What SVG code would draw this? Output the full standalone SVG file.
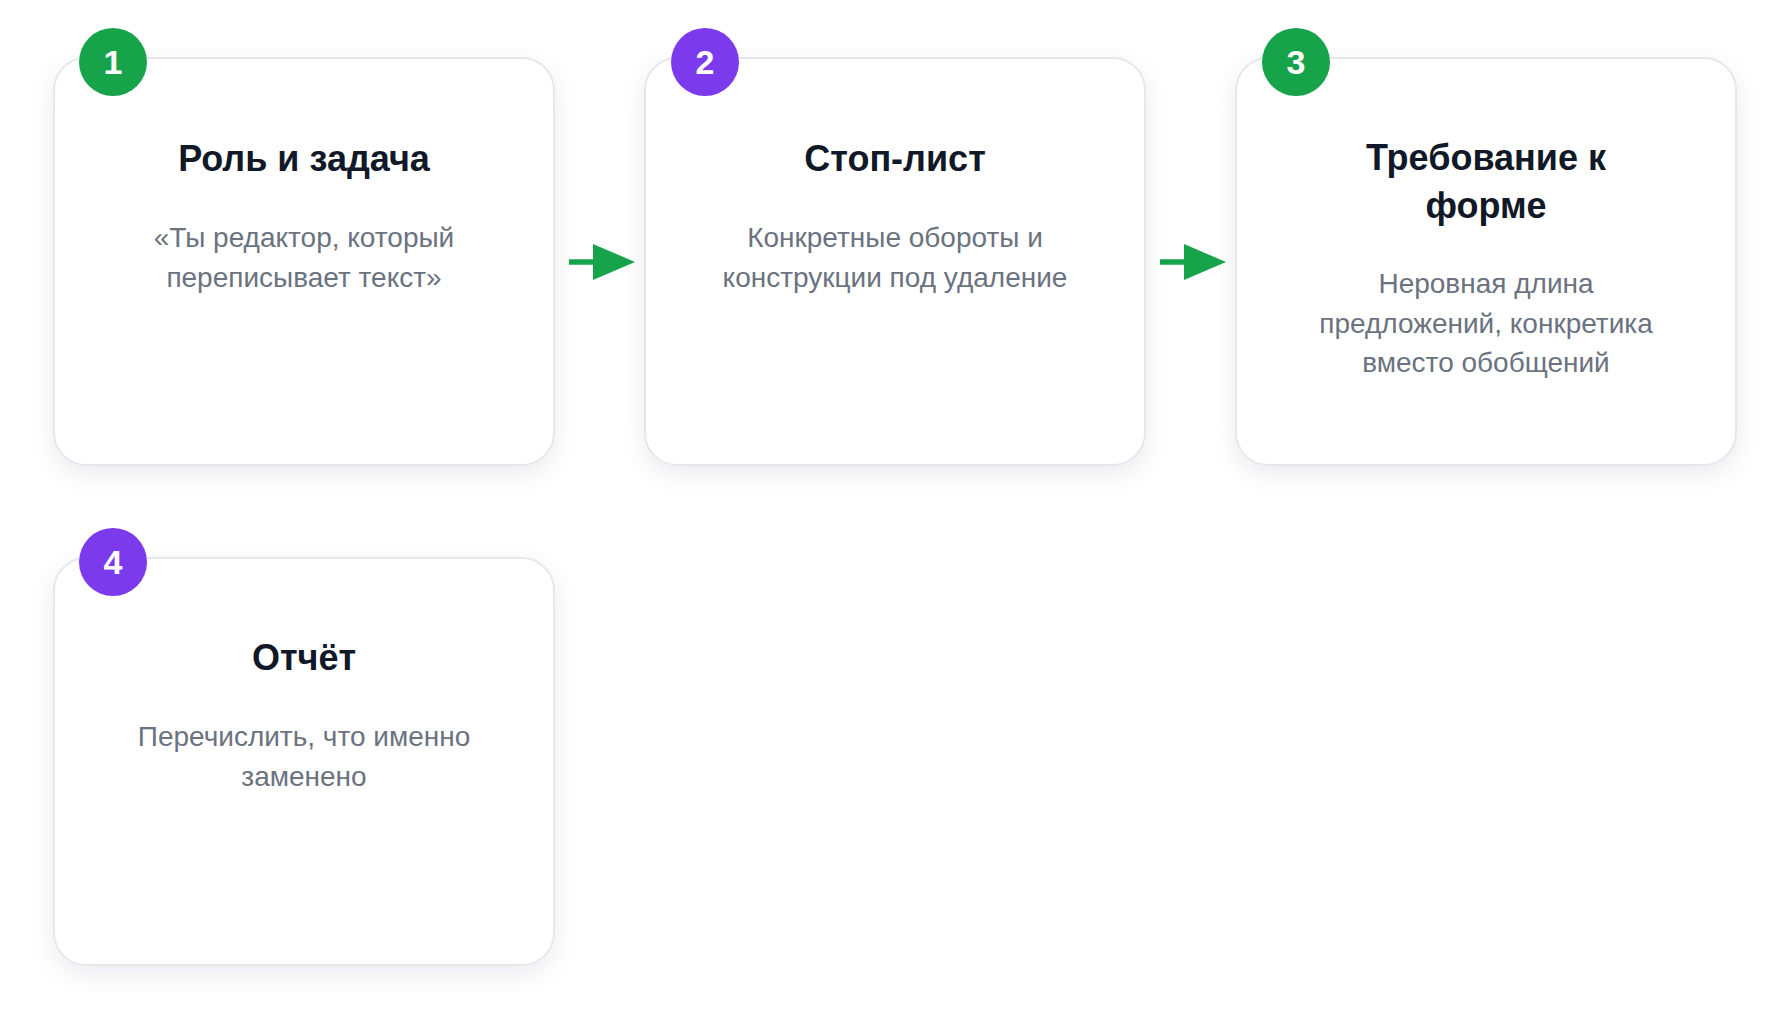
<svg xmlns="http://www.w3.org/2000/svg" width="1790" height="1025" viewBox="0 0 1790 1025">
  <defs>
    <filter id="shadow" x="-20%" y="-20%" width="140%" height="140%">
      <feDropShadow dx="0" dy="8" stdDeviation="12" flood-color="#1f2937" flood-opacity="0.08"/>
    </filter>
    <marker id="head" viewBox="0 0 10 10" refX="10" refY="5" markerWidth="8" markerHeight="7.2" markerUnits="userSpaceOnUse" orient="auto">
      <path d="M0,0 L10,5 L0,10 Z" fill="#16a34a"/>
    </marker>
  </defs>
  <style>
    .card { fill: #ffffff; stroke: #e5e7eb; stroke-width: 2; filter: url(#shadow); }
    .title { font-family: "Liberation Sans", Arial, sans-serif; font-weight: 700; font-size: 36px; fill: #111827; text-anchor: middle; }
    .body { font-family: "Liberation Sans", Arial, sans-serif; font-size: 28px; fill: #6b7280; text-anchor: middle; }
    .num { font-family: "Liberation Sans", Arial, sans-serif; font-weight: 700; font-size: 34px; fill: #ffffff; text-anchor: middle; }
    .green { fill: #16a34a; }
    .purple { fill: #7c3aed; }
    .conn { stroke: #16a34a; stroke-width: 5.5; fill: none; }
    .arrowhead { fill: #16a34a; }
  </style>
  <rect x="0" y="0" width="1790" height="1025" fill="#ffffff"/>

  <g id="connectors">
    <line class="conn" x1="569" y1="262" x2="596" y2="262"/>
    <polygon class="arrowhead" points="593,244 635,262 593,280"/>
    <line class="conn" x1="1160" y1="262" x2="1187" y2="262"/>
    <polygon class="arrowhead" points="1184,244 1226,262 1184,280"/>
  </g>

  <g id="node1">
    <rect class="card" x="54" y="58" width="500" height="407" rx="32" ry="32"/>
    <circle class="green" cx="113" cy="62" r="34"/>
    <text class="num" x="113" y="74">1</text>
    <text class="title" x="304" y="171">Роль и задача</text>
    <text class="body" x="304" y="247">«Ты редактор, который</text>
    <text class="body" x="304" y="286.5">переписывает текст»</text>
  </g>

  <g id="node2">
    <rect class="card" x="645" y="58" width="500" height="407" rx="32" ry="32"/>
    <circle class="purple" cx="705" cy="62" r="34"/>
    <text class="num" x="705" y="74">2</text>
    <text class="title" x="895" y="171">Стоп-лист</text>
    <text class="body" x="895" y="247">Конкретные обороты и</text>
    <text class="body" x="895" y="286.5">конструкции под удаление</text>
  </g>

  <g id="node3">
    <rect class="card" x="1236" y="58" width="500" height="407" rx="32" ry="32"/>
    <circle class="green" cx="1296" cy="62" r="34"/>
    <text class="num" x="1296" y="74">3</text>
    <text class="title" x="1486" y="170">Требование к</text>
    <text class="title" x="1486" y="218">форме</text>
    <text class="body" x="1486" y="293">Неровная длина</text>
    <text class="body" x="1486" y="332.5">предложений, конкретика</text>
    <text class="body" x="1486" y="372">вместо обобщений</text>
  </g>

  <g id="node4">
    <rect class="card" x="54" y="558" width="500" height="407" rx="32" ry="32"/>
    <circle class="purple" cx="113" cy="562" r="34"/>
    <text class="num" x="113" y="574">4</text>
    <text class="title" x="304" y="670">Отчёт</text>
    <text class="body" x="304" y="746">Перечислить, что именно</text>
    <text class="body" x="304" y="785.5">заменено</text>
  </g>
</svg>
